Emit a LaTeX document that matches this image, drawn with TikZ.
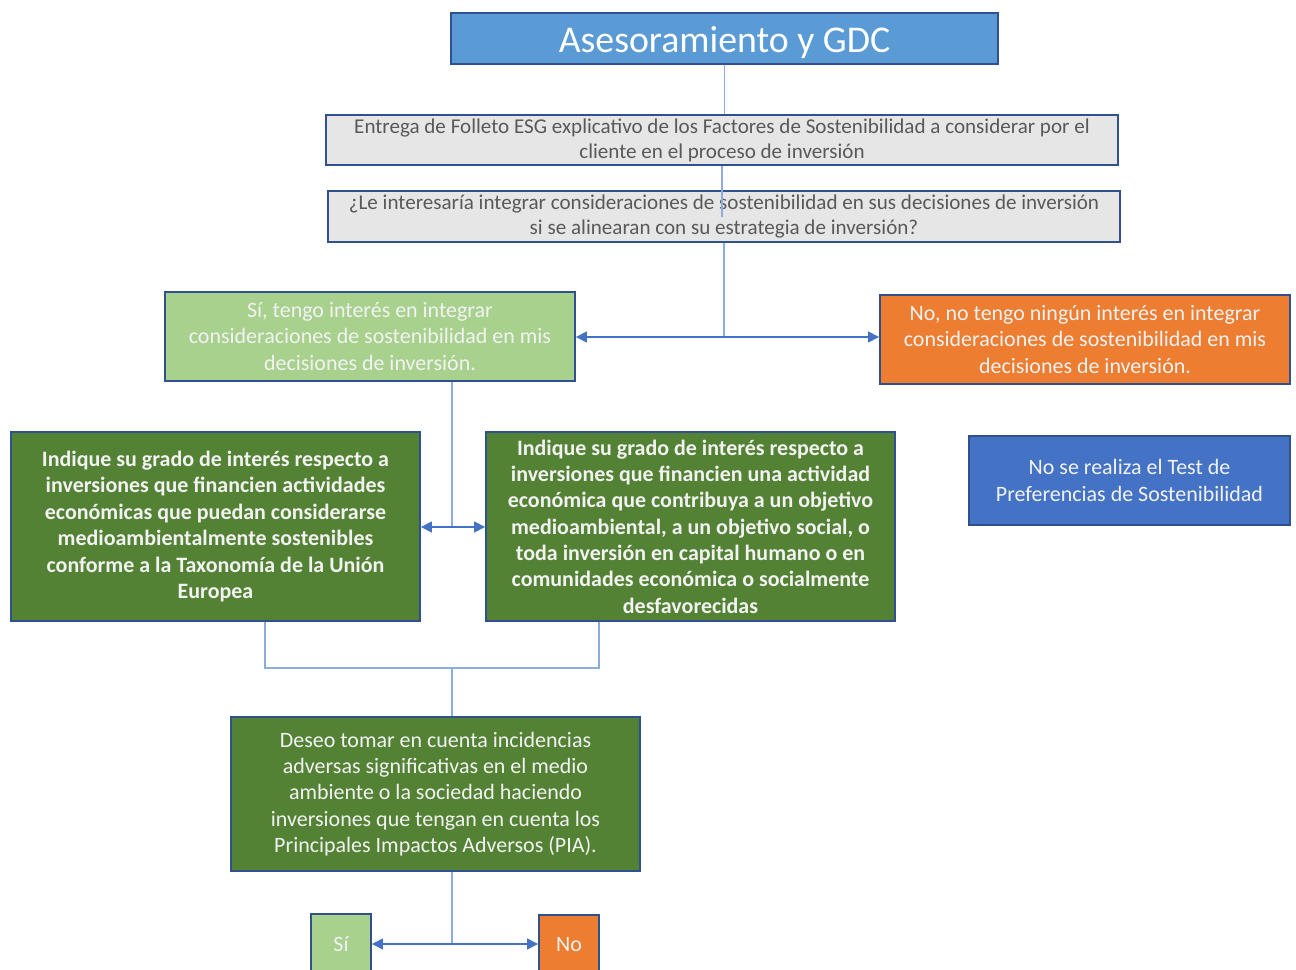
\documentclass[tikz,border=0pt]{standalone}
\usepackage{fontspec}
\setmainfont{Carlito}
\usetikzlibrary{positioning,arrows.meta}
\definecolor{titleblue}{HTML}{5B9BD5}
\definecolor{edgeblue}{HTML}{2F528F}
\definecolor{lineblue}{HTML}{4472C4}
\definecolor{paleline}{HTML}{8FAADC}
\definecolor{boxgray}{HTML}{E7E6E6}
\definecolor{lightgreen}{HTML}{A9D18E}
\definecolor{darkgreen}{HTML}{548235}
\definecolor{orangebox}{HTML}{ED7D31}
\definecolor{bluebox}{HTML}{4472C4}
\definecolor{softwhite}{HTML}{F2F2F2}
\definecolor{graytext}{HTML}{595959}
\tikzset{
box/.style={draw=edgeblue, line width=1.1pt, align=center, inner sep=2pt, text=softwhite, font=\fontsize{12.5}{15}\selectfont}, % common look of every box
infobox/.style={box, fill=boxgray, text=graytext, minimum width=15.84cm, minimum height=1cm, font=\fontsize{12}{14.2}\selectfont}, % the two gray boxes
yesbox/.style={box, fill=lightgreen}, % light green answers
nobox/.style={box, fill=orangebox}, % orange answers
greenbox/.style={box, fill=darkgreen}, % dark green questions
link/.style={draw=paleline, line width=0.8pt}, % plain connectors
arr/.style={draw=lineblue, line width=0.8pt, -{Triangle[length=2.2mm,width=2.2mm]}}, % connectors with a head
}

\begin{document}
\begin{tikzpicture}[x=0.02cm, y=-0.02cm]
\useasboundingbox (0,0) rectangle (1296,970);

\node[box, fill=titleblue, text=white, minimum width=10.94cm, minimum height=1.02cm, text height=18pt, text depth=2pt, font=\fontsize{21.5}{24}\selectfont] (gdc) at (724.5,38.5) {Asesoramiento y GDC};
\node[infobox] (folleto) at (722,140) {Entrega de Folleto ESG explicativo de los Factores de Sostenibilidad a considerar por el\\cliente en el proceso de inversión};
\node[infobox] (pregunta) at (724,216.5) {¿Le interesaría integrar consideraciones de sostenibilidad en sus decisiones de inversión\\si se alinearan con su estrategia de inversión?};

\node[yesbox, minimum width=8.2cm, minimum height=1.78cm] (si) at (370,336.5) {Sí, tengo interés en integrar\\consideraciones de sostenibilidad en mis\\decisiones de inversión.};
\node[nobox, minimum width=8.2cm, minimum height=1.78cm] (no) at (1085,339.5) {No, no tengo ningún interés en integrar\\consideraciones de sostenibilidad en mis\\decisiones de inversión.};
\node[box, fill=bluebox, minimum width=6.42cm, minimum height=1.78cm] (notest) at (1129.5,480.5) {No se realiza el Test de\\Preferencias de Sostenibilidad};

\node[greenbox, minimum width=8.18cm, minimum height=3.78cm, font=\fontsize{12.5}{15}\selectfont\bfseries] (taxo) at (215.5,526.5) {Indique su grado de interés respecto a\\inversiones que financien actividades\\económicas que puedan considerarse\\medioambientalmente sostenibles\\conforme a la Taxonomía de la Unión\\Europea};
\node[greenbox, minimum width=8.18cm, minimum height=3.78cm, font=\fontsize{12.5}{15}\selectfont\bfseries] (objetivo) at (690.5,526.5) {Indique su grado de interés respecto a\\inversiones que financien una actividad\\económica que contribuya a un objetivo\\medioambiental, a un objetivo social, o\\toda inversión en capital humano o en\\comunidades económica o socialmente\\desfavorecidas};

\node[greenbox, minimum width=8.18cm, minimum height=3.08cm] (pia) at (435.5,794) {Deseo tomar en cuenta incidencias\\adversas significativas en el medio\\ambiente o la sociedad haciendo\\inversiones que tengan en cuenta los\\Principales Impactos Adversos (PIA).};
\node[yesbox, minimum width=1.2cm, minimum height=1.2cm] (piasi) at (341,944) {Sí};
\node[nobox, minimum width=1.2cm, minimum height=1.2cm] (piano) at (569,945) {No};

% connectors
\coordinate (split1) at (724,337);
\coordinate (split2) at (452,527);
\coordinate (join) at (452,668);
\coordinate (split3) at (452,944);

\draw[link] (gdc.south) -- (gdc.south |- folleto.north);
\draw[link] (folleto.south) -- (folleto.south |- pregunta.center);
\draw[link] (pregunta.south) -- (split1);
\draw[arr] (split1) -- (split1 -| si.east);
\draw[arr] (split1) -- (split1 -| no.west);

\draw[link] (split2 |- si.south) -- (split2);
\draw[arr] (split2) -- (split2 -| taxo.east);
\draw[arr] (split2) -- (split2 -| objetivo.west);

\draw[link] ([xshift=0.99cm]taxo.south) |- (join) -| ([xshift=-1.83cm]objetivo.south);
\draw[link] (join) -- (join |- pia.north);

\draw[link] (split3 |- pia.south) -- (split3);
\draw[arr] (split3) -- (split3 -| piasi.east);
\draw[arr] (split3) -- (split3 -| piano.west);
\end{tikzpicture}
\end{document}
